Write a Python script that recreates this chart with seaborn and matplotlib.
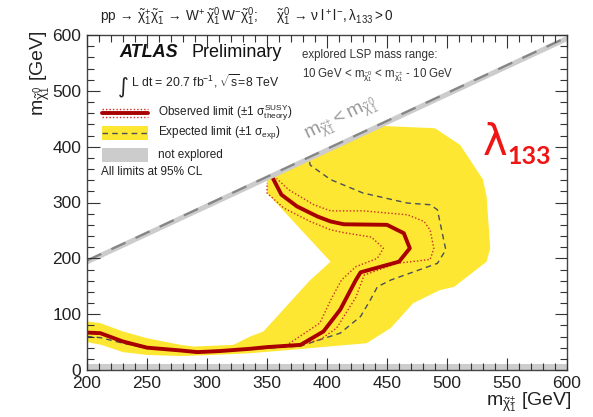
import numpy as np
import pandas as pd
import matplotlib
matplotlib.use("Agg")
import matplotlib.pyplot as plt
import seaborn as sns
from matplotlib.lines import Line2D
from matplotlib.patches import Rectangle
from matplotlib.ticker import MultipleLocator

# ---- exclusion contours in the (m_chargino, m_LSP) plane, GeV ----
obs_x = [200, 211, 230, 250, 278, 292, 311, 336, 350, 378, 397, 411, 424, 428,
         460, 469, 464, 450, 414, 403, 392, 375, 362, 355]
obs_y = [67, 66, 51, 40, 35, 32, 34, 38, 41, 45, 69, 108, 161, 175,
         194, 218, 245, 260, 261, 266, 275, 293, 314, 343]

theo_lo_x = [366, 394, 403, 412, 424, 442, 447, 437, 414, 403, 386, 364, 350, 350]
theo_lo_y = [44, 84, 125, 161, 185, 200, 218, 238, 246, 251, 266, 290, 317, 335]

theo_hi_x = [380, 394, 408, 419, 424, 431, 458, 486, 489, 486, 481, 467, 430,
             403, 389, 368, 358]
theo_hi_y = [47, 54, 75, 113, 130, 170, 191, 198, 218, 250, 266, 278, 285,
             285, 296, 323, 343]

exp_x = [200, 211, 230, 250, 278, 300, 336, 378, 411, 428, 436, 442, 453, 492,
         499, 492, 486, 467, 430, 403, 386, 385]
exp_y = [60, 58, 48, 39, 34, 33, 37, 43, 66, 96, 125, 149, 161, 191,
         215, 287, 296, 299, 317, 341, 367, 378]

band_x = [200, 211, 230, 250, 278, 289, 322, 336, 347, 386, 403, 350, 350, 447,
          490, 511, 530, 533, 536, 533, 506, 494, 472, 453, 433, 380, 336, 306,
          278, 250, 230, 212, 200]
band_y = [87, 84, 69, 57, 45, 42, 45, 60, 69, 161, 194, 317, 340, 437,
          433, 403, 341, 311, 218, 194, 149, 143, 120, 75, 48, 38, 30, 27,
          25, 27, 32, 45, 50]

x_ticks = [200, 250, 300, 350, 400, 450, 500, 550, 600]
y_ticks = [0, 100, 200, 300, 400, 500, 600]

sns.set_theme(style="ticks")
plt.rcParams.update({
    "font.family": ["Liberation Sans", "DejaVu Sans"],
    "mathtext.fontset": "custom",
    "mathtext.rm": "Liberation Sans",
    "mathtext.it": "Liberation Sans",
    "mathtext.bf": "Liberation Sans:bold",
    "mathtext.sf": "Liberation Sans",
    "axes.axisbelow": False,
    "xtick.direction": "in",
    "ytick.direction": "in",
    "xtick.top": True,
    "ytick.right": True,
    "xtick.major.size": 9,
    "ytick.major.size": 9,
    "xtick.minor.size": 5,
    "ytick.minor.size": 5,
    "xtick.major.width": 0.8,
    "ytick.major.width": 0.8,
    "xtick.minor.width": 0.8,
    "ytick.minor.width": 0.8,
    "xtick.color": "#333333",
    "ytick.color": "#333333",
})

W, H = 593, 417
fig = plt.figure(figsize=(W / 100, H / 100), dpi=100)
ax = fig.add_axes([87 / W, 1 - 370 / H, 480 / W, 335 / H])
ax.set_axisbelow(False)


def fx(px):
    return px / W


def fy(py):
    return 1 - py / H


YELLOW = "#fde732"
GREY = "#cccccc"
RED = "#a80000"
DOT_RED = "#cc2a2a"
DASH = "#4a4f5a"

# expected +-1 sigma band
ax.fill(band_x, band_y, color=YELLOW, lw=0, zorder=1)

# kinematically forbidden / unexplored regions
ax.axhspan(0, 10, color=GREY, lw=0, zorder=1.5)
dx = np.array([180.0, 620.0])
ax.fill_between(dx, dx - 10, dx, color=GREY, lw=0, zorder=1.5)
ax.plot(dx, dx - 4, color="#858585", lw=1.6, ls=(0, (7, 5)), zorder=1.6)

curves = [
    (exp_x, exp_y, dict(color=DASH, lw=1.0, ls=(0, (4, 3)))),
    (theo_lo_x, theo_lo_y, dict(color=DOT_RED, lw=1.0, ls=(0, (1, 1.5)))),
    (theo_hi_x, theo_hi_y, dict(color=DOT_RED, lw=1.0, ls=(0, (1, 1.5)))),
    (obs_x, obs_y, dict(color=RED, lw=2.8, ls="-")),
]
for cx, cy, kw in curves:
    df = pd.DataFrame({"m_chargino": cx, "m_lsp": cy})
    sns.lineplot(data=df, x="m_chargino", y="m_lsp", sort=False, estimator=None,
                 ax=ax, zorder=1.2, **kw)

ax.text(412, 448, r"$m_{\tilde{\chi}^{\pm}_{1}} < m_{\tilde{\chi}^{0}_{1}}$",
        rotation=26, rotation_mode="anchor", ha="center", va="center",
        color="#9a9a9a", fontsize=14, zorder=2)

ax.set_xlim(200, 600)
ax.set_ylim(0, 600)
ax.set_xticks(x_ticks)
ax.set_yticks(y_ticks)
ax.xaxis.set_minor_locator(MultipleLocator(10))
ax.yaxis.set_minor_locator(MultipleLocator(20))
ax.tick_params(which="both", direction="in", bottom=True, top=True, left=True,
               right=True, color="#333333", labelcolor="#222222")
ax.tick_params(which="major", length=9, width=0.8, labelsize=12.5, pad=4)
ax.tick_params(which="minor", length=5, width=0.8)
for s in ax.spines.values():
    s.set_color("#444444")
    s.set_linewidth(1.0)

ax.set_xlabel(r"$m_{\tilde{\chi}^{\pm}_{1}}$ [GeV]", fontsize=14, color="#222222")
ax.set_ylabel(r"$m_{\tilde{\chi}^{0}_{1}}$ [GeV]", fontsize=14, color="#222222")
ax.xaxis.set_label_coords(1.01, -0.062)
ax.xaxis.label.set_ha("right")
ax.yaxis.set_label_coords(-0.072, 1.015)
ax.yaxis.label.set_ha("right")

# header
fig.text(fx(100), fy(21),
         r"pp$\,\rightarrow\,\tilde{\chi}^{+}_{1}\tilde{\chi}^{-}_{1}\,\rightarrow\,$"
         r"W$^{+}\,\tilde{\chi}^{0}_{1}\,$W$^{-}\tilde{\chi}^{0}_{1}$;     "
         r"$\tilde{\chi}^{0}_{1}\,\rightarrow\,\nu\;l^{+}\,l^{-}, \lambda_{133} > 0$",
         fontsize=9.8, color="#222222", va="baseline")

fig.text(fx(119), fy(56.7), "ATLAS", fontsize=13, fontweight="bold",
         fontstyle="italic", va="baseline", color="#111111")
fig.text(fx(191.7), fy(56.7), "Preliminary", fontsize=13, va="baseline",
         color="#111111")
fig.text(fx(118), fy(92), "\u222b", fontsize=15, family="DejaVu Sans",
         va="baseline", color="#222222")
fig.text(fx(131), fy(87), r"L dt = 20.7 fb$^{-1}$, $\sqrt{\rm s}$=8 TeV",
         fontsize=8.8, va="baseline", color="#222222")

fig.text(fx(302), fy(58), "explored LSP mass range:", fontsize=8.3,
         va="baseline", color="#333333")
fig.text(fx(302), fy(77),
         r"10 GeV < $m_{\tilde{\chi}^{0}_{1}}$ < $m_{\tilde{\chi}^{\pm}_{1}}$ - 10 GeV",
         fontsize=8.3, va="baseline", color="#333333")

# legend
hx0, hx1 = fx(101.7), fx(148.3)
fig.add_artist(Line2D([hx0, hx1], [fy(108.5)] * 2, color=DOT_RED, lw=1.0,
                      ls=(0, (1, 1.5))))
fig.add_artist(Line2D([hx0, hx1], [fy(117)] * 2, color=DOT_RED, lw=1.0,
                      ls=(0, (1, 1.5))))
fig.add_artist(Line2D([hx0, hx1], [fy(112.7)] * 2, color=RED, lw=2.8))
fig.add_artist(Rectangle((hx0, fy(140)), hx1 - hx0, fy(126) - fy(140),
                         color=YELLOW, lw=0))
fig.add_artist(Line2D([hx0, hx1], [fy(133)] * 2, color=DASH, lw=1.0,
                      ls=(0, (4, 3))))
fig.add_artist(Rectangle((hx0, fy(162)), hx1 - hx0, fy(148) - fy(162),
                         color=GREY, lw=0))
fig.text(fx(158), fy(112.7), r"Observed limit ($\pm$1 $\sigma^{\rm SUSY}_{\rm theory}$)",
         fontsize=8.5, va="center", color="#222222")
fig.text(fx(158), fy(133), r"Expected limit ($\pm$1 $\sigma_{\rm exp}$)",
         fontsize=8.5, va="center", color="#222222")
fig.text(fx(158), fy(155), "not explored", fontsize=8.5, va="center",
         color="#222222")
fig.text(fx(101), fy(172), "All limits at 95% CL", fontsize=8.5, va="center",
         color="#222222")

# coupling tag
fig.text(fx(483), fy(155), "\u03bb", fontsize=30, family="DejaVu Sans",
         color="#f01515", va="baseline")
fig.text(fx(507), fy(164), "133", fontsize=18, family="Lato", fontweight="bold",
         color="#f01515", va="baseline")

fig.savefig("out.png", dpi=100)
